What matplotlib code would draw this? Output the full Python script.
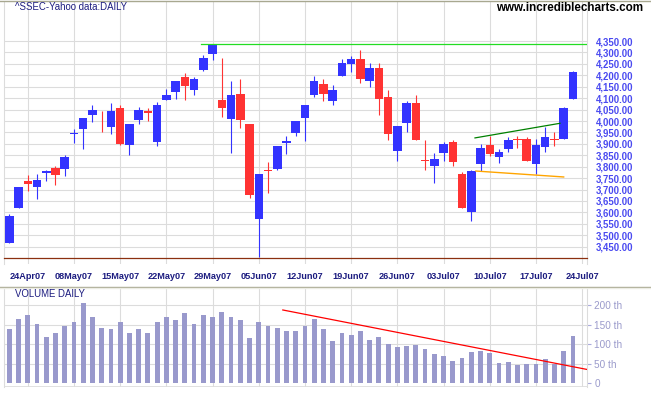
import matplotlib
matplotlib.use("Agg")
import matplotlib.pyplot as plt
from matplotlib.lines import Line2D
from matplotlib.transforms import blended_transform_factory

# ---------------- data ----------------
dates = ["20Apr07", "23Apr07", "24Apr07", "25Apr07", "26Apr07", "27Apr07", "30Apr07",
         "08May07", "09May07", "10May07", "11May07", "14May07", "15May07", "16May07",
         "17May07", "18May07", "21May07", "22May07", "23May07", "24May07", "25May07",
         "28May07", "29May07", "30May07", "31May07", "01Jun07", "04Jun07", "05Jun07",
         "06Jun07", "07Jun07", "08Jun07", "11Jun07", "12Jun07", "13Jun07", "14Jun07",
         "15Jun07", "18Jun07", "19Jun07", "20Jun07", "21Jun07", "22Jun07", "25Jun07",
         "26Jun07", "27Jun07", "28Jun07", "29Jun07", "02Jul07", "03Jul07", "04Jul07",
         "05Jul07", "06Jul07", "09Jul07", "10Jul07", "11Jul07", "12Jul07", "13Jul07",
         "16Jul07", "17Jul07", "18Jul07", "19Jul07", "20Jul07", "23Jul07"]

opens = [3464, 3617, 3739, 3710, 3771, 3793, 3789, 3942, 3964, 4025, 4024, 3973, 4059, 3894,
         4004, 4043, 3907, 4094, 4126, 4191, 4135, 4223, 4293, 4090, 4008, 4120, 3985, 3569,
         3783, 3789, 3903, 3946, 4012, 4113, 4164, 4087, 4196, 4251, 4270, 4175, 4230, 4103,
         3868, 3990, 4081, 3828, 3802, 3859, 3906, 3768, 3603, 3811, 3897, 3841, 3876, 3923,
         3923, 3811, 3885, 3920, 3920, 4096]
highs = [3594, 3713, 3765, 3770, 3787, 3805, 3853, 3967, 4015, 4072, 4042, 4081, 4072, 3989,
         4063, 4055, 4085, 4138, 4177, 4208, 4191, 4287, 4335, 4278, 4177, 4182, 3985, 3770,
         3822, 3892, 3936, 4002, 4072, 4195, 4182, 4156, 4270, 4283, 4313, 4256, 4252, 4134,
         3976, 4088, 4116, 3919, 3860, 3910, 3919, 3777, 3787, 3901, 3935, 3879, 3928, 3935,
         3932, 3923, 3973, 3951, 4063, 4221]
lows = [3464, 3617, 3692, 3657, 3736, 3721, 3761, 3903, 3876, 3995, 3951, 3942, 3894, 3849,
        3986, 4002, 3892, 4090, 4096, 4090, 4113, 4217, 4267, 4017, 3859, 3968, 3661, 3406,
        3686, 3784, 3854, 3933, 3911, 4104, 4087, 4069, 4196, 4213, 4166, 4148, 4025, 3916,
        3824, 3951, 3916, 3784, 3727, 3824, 3802, 3618, 3563, 3783, 3846, 3815, 3863, 3881,
        3824, 3770, 3863, 3889, 3920, 4096]
closes = [3585, 3713, 3723, 3743, 3783, 3762, 3844, 3949, 4015, 4050, 4020, 4046, 3901, 3989,
          4050, 4034, 4072, 4112, 4173, 4153, 4182, 4274, 4335, 4056, 4112, 4004, 3675, 3770,
          3780, 3892, 3914, 3998, 4072, 4177, 4118, 4134, 4256, 4270, 4183, 4230, 4096, 3942,
          3976, 4081, 3916, 3825, 3835, 3900, 3819, 3618, 3783, 3884, 3854, 3866, 3919, 3917,
          3824, 3897, 3932, 3917, 4059, 4213]
volumes = [138, 164, 175, 152, 118, 130, 146, 158, 207, 171, 141, 138, 156, 130, 138, 130,
           156, 171, 161, 179, 153, 176, 171, 184, 171, 161, 115, 156, 146, 141, 135, 133,
           148, 166, 138, 107, 128, 123, 135, 112, 118, 100, 92, 95, 97, 87, 74, 69, 56, 64,
           79, 82, 77, 51, 54, 46, 49, 49, 61, 49, 82, 120]

week_labels = ["24Apr07", "08May07", "15May07", "22May07", "29May07", "05Jun07", "12Jun07",
               "19Jun07", "26Jun07", "03Jul07", "10Jul07", "17Jul07", "24Jul07"]
week_pos = [2, 7, 12, 17, 22, 27, 32, 37, 42, 47, 52, 57, 62]

price_ticks = [3450, 3500, 3550, 3600, 3650, 3700, 3750, 3800, 3850, 3900, 3950, 4000,
               4050, 4100, 4150, 4200, 4250, 4300, 4350]
vol_ticks = [0, 50, 100, 150, 200]
vol_tick_labels = ["0", "50 th", "100 th", "150 th", "200 th"]

# trend lines (x in bar index, y in price / volume)
peak_line = ([20.7, 62.5], [4336, 4336])
support_line = ([-0.6, 62.5], [3400, 3400])
upper_trend = ([50.4, 59.6], [3926, 3990])
lower_trend = ([50.5, 60.0], [3781, 3755])
vol_trend = ([29.6, 62.5], [188, 35])

# ---------------- style ----------------
W, H = 651, 395
UP = "#3333ff"
DOWN = "#ff3333"
GRID = "#dcdcdc"
FONT = "Liberation Sans"

fig = plt.figure(figsize=(W / 100, H / 100), dpi=100)
fig.patch.set_facecolor("white")

def fx(px):
    return px / W

def fy(py):
    return 1 - py / H

left, right = 4.3, 586.7
axp = fig.add_axes([fx(left), fy(264), fx(right - left), fy(2) - fy(264)])
axv = fig.add_axes([fx(left), fy(386.7), fx(right - left), fy(289) - fy(386.7)])

xmin, xmax = -0.54, 62.49
n = len(dates)
idx = list(range(n))

for ax in (axp, axv):
    ax.set_xlim(xmin, xmax)
    ax.set_facecolor("white")
    for s in ("top", "bottom"):
        ax.spines[s].set_visible(False)
    for s in ("left", "right"):
        ax.spines[s].set_color(GRID)
        ax.spines[s].set_linewidth(0.8)
    ax.set_xticks([])
    for p in week_pos:
        ax.axvline(p, color=GRID, lw=0.8, zorder=0)

# ---- price panel ----
axp.set_ylim(3374, 4521)
for t in price_ticks:
    axp.axhline(t, color=GRID, lw=0.8, zorder=0)

body_w = 0.92
for i in idx:
    o, h, l, c = opens[i], highs[i], lows[i], closes[i]
    col = UP if c >= o else DOWN
    axp.vlines(i, l, h, color=col, lw=0.8, zorder=2)
    bh = max(abs(c - o), 4)
    axp.bar(i, bh, bottom=min(o, c) if abs(c - o) >= 4 else (o + c) / 2 - 2,
            width=body_w, color=col, linewidth=0, zorder=3)

axp.plot(*peak_line, color="#22dd22", lw=0.9, zorder=4)
axp.plot(*support_line, color="#8b3010", lw=0.9, zorder=4, clip_on=False)
axp.plot(*upper_trend, color="#008000", lw=0.9, zorder=4)
axp.plot(*lower_trend, color="#ffa500", lw=1.0, zorder=4)

axp.yaxis.tick_right()
axp.set_yticks(price_ticks)
axp.set_yticklabels([f"{t:,.2f}" for t in price_ticks])
axp.tick_params(axis="y", length=0, pad=6.5, labelsize=6.9, labelcolor="#4a4af0")
for lab in axp.get_yticklabels():
    lab.set_fontfamily(FONT)
    lab.set_fontweight("bold")

trans = blended_transform_factory(axp.transData, fig.transFigure)
for p, lab in zip(week_pos, week_labels):
    axp.text(p, fy(276.8), lab, transform=trans, ha="center", va="center",
             fontsize=6.6, fontweight="bold", color="#1c1c80", family=FONT)

# ---- volume panel ----
axv.set_ylim(-9.5, 242)
for t in vol_ticks[1:]:
    axv.axhline(t, color=GRID, lw=0.8, zorder=0)
axv.axhline(-9.5, color=GRID, lw=1.2, zorder=0)
axv.bar(idx, volumes, width=0.52, color="#9999cc", linewidth=0, zorder=2)
axv.plot(*vol_trend, color="#ff0000", lw=0.9, zorder=4)
axv.yaxis.tick_right()
axv.set_yticks(vol_ticks)
axv.set_yticklabels(vol_tick_labels)
axv.tick_params(axis="y", length=3, width=0.8, color="#aaaadd", pad=2.5,
                labelsize=7.2, labelcolor="#9a9acb")
for lab in axv.get_yticklabels():
    lab.set_fontfamily(FONT)

# ---- texts & separators ----
fig.text(fx(15), fy(7), "^SSEC-Yahoo data:DAILY", ha="left", va="center",
         fontsize=6.9, color="#1c1c80", family=FONT)
fig.text(fx(642.7), fy(8.3), "www.incrediblecharts.com", ha="right", va="center",
         fontsize=8.4, fontweight="bold", color="black", family=FONT)
fig.text(fx(15), fy(294), "VOLUME DAILY", ha="left", va="center",
         fontsize=6.9, color="#1c1c80", family=FONT)

fig.add_artist(Line2D([0, 1], [fy(0.5), fy(0.5)], color="#a8a890", lw=1.0,
                      transform=fig.transFigure))
fig.add_artist(Line2D([0, 1], [fy(286.8), fy(286.8)], color="#a8a890", lw=1.0,
                      transform=fig.transFigure))
fig.add_artist(Line2D([0, 1], [fy(288), fy(288)], color="#ecece4", lw=1.0,
                      transform=fig.transFigure))

fig.savefig("out.png", dpi=100, facecolor="white")
